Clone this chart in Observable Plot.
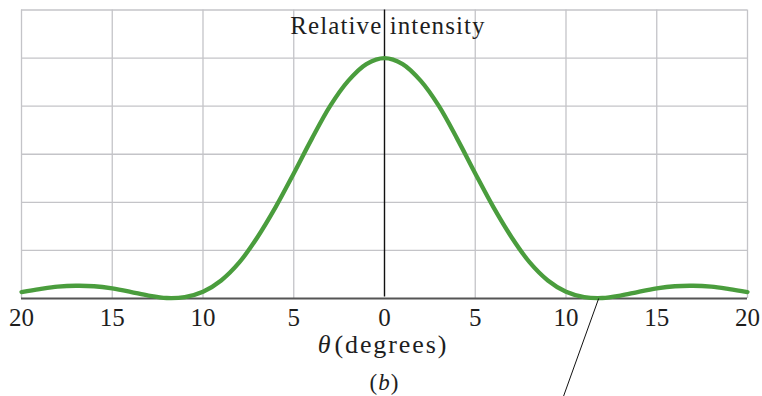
<!DOCTYPE html>
<html>
<head>
<meta charset="utf-8">
<script src="https://cdn.jsdelivr.net/npm/d3@7"></script>
<script src="https://cdn.jsdelivr.net/npm/@observablehq/plot@0.6"></script>
<style>
  html, body { margin: 0; padding: 0; background: #fff; }
  #chart svg { display: block; }
</style>
</head>
<body>
<div id="chart"></div>
<script>
// Single-slit diffraction: relative intensity against angle θ (degrees)
const theta = [
  -20, -19, -18, -17, -16, -15, -14, -13, -12, -11, -10, -9, -8, -7, -6, -5, -4, -3, -2, -1,
  0,
  1, 2, 3, 4, 5, 6, 7, 8, 9, 10, 11, 12, 13, 14, 15, 16, 17, 18, 19, 20
];
const intensity = [
  0.027, 0.039, 0.049, 0.053, 0.051, 0.042, 0.028, 0.012, 0.002, 0.006, 0.028, 0.075, 0.150, 0.255, 0.380, 0.520, 0.665, 0.800, 0.905, 0.975,
  1.000,
  0.975, 0.905, 0.800, 0.665, 0.520, 0.380, 0.255, 0.150, 0.075, 0.028, 0.006, 0.002, 0.012, 0.028, 0.042, 0.051, 0.053, 0.049, 0.039, 0.027
];
const xTicks = [-20, -15, -10, -5, 0, 5, 10, 15, 20];
const yGrid = [0.2, 0.4, 0.6, 0.8, 1.0, 1.2];
const yTitle = "Relative intensity";
const xTitle = "θ (degrees)";
const panel = "(b)";

// pointer line from the first minimum down towards an off-chart label
const pointer = [{x1: 11.8, y1: 0, x2: 9.8, y2: -0.42}];

const curve = theta.map((t, i) => ({theta: t, I: intensity[i]}));
const green = "#4a9d3d";
const ink = "#1e1e1e";
const grid = "#c4c4c8";

const chart = Plot.plot({
  width: 762,
  height: 396,
  marginLeft: 21,
  marginRight: 15,
  marginTop: 9.5,
  marginBottom: 98,
  style: {background: "#fff", overflow: "visible"},
  x: {domain: [-20, 20], axis: null},
  y: {domain: [0, 1.2], axis: null},
  marks: [
    Plot.ruleX(xTicks.filter(d => d !== 0), {stroke: grid, strokeWidth: 1.3}),
    Plot.ruleY(yGrid, {stroke: grid, strokeWidth: 1.3}),
    Plot.ruleY([0], {stroke: "#555", strokeWidth: 2}),
    Plot.ruleX([0], {y1: 0, y2: 1.2, stroke: "#111", strokeWidth: 1.4, insetTop: -1.5}),
    Plot.line(curve, {x: "theta", y: "I", stroke: green, strokeWidth: 4.3, curve: "catmull-rom"}),
    Plot.link(pointer, {x1: "x1", y1: "y1", x2: "x2", y2: "y2", stroke: "#111", strokeWidth: 1}),
    Plot.text(xTicks, {x: d => d, y: 0, text: d => String(Math.abs(d)), dy: 19, fontSize: 25, fill: ink, lineAnchor: "middle", className: "tick-label"}),
    Plot.text([yTitle], {x: 0, y: 1.2, dy: 15.5, dx: 3.5, fontSize: 25, fill: ink, lineAnchor: "middle", className: "title"}),
    Plot.text([xTitle], {x: 0, y: 0, dx: -1.5, dy: 46, fontSize: 26, fill: ink, lineAnchor: "middle", className: "x-title"}),
    Plot.text([panel], {x: 0, y: 0, dy: 84, fontSize: 23, fill: ink, lineAnchor: "middle", className: "title panel"})
  ]
});

// serif lettering, set as CSS so it wins over the default sans-serif
const svg = d3.select(chart);
svg.selectAll("text").style("font-family", "\"Liberation Serif\"");
svg.selectAll(".title text").style("letter-spacing", "1.1px");
svg.selectAll(".x-title text").style("letter-spacing", "1.9px");

// italic θ inside the x title, italic b inside the panel tag
svg.selectAll(".x-title text").each(function () {
  const t = d3.select(this);
  t.text(null);
  t.append("tspan").style("font-style", "italic").text("θ");
  t.append("tspan").attr("dx", 2).text("(degrees)");
});
svg.selectAll(".panel text").each(function () {
  const t = d3.select(this);
  t.text(null);
  t.append("tspan").text("(");
  t.append("tspan").style("font-style", "italic").text("b");
  t.append("tspan").text(")");
});

document.getElementById("chart").appendChild(chart);
</script>
</body>
</html>
